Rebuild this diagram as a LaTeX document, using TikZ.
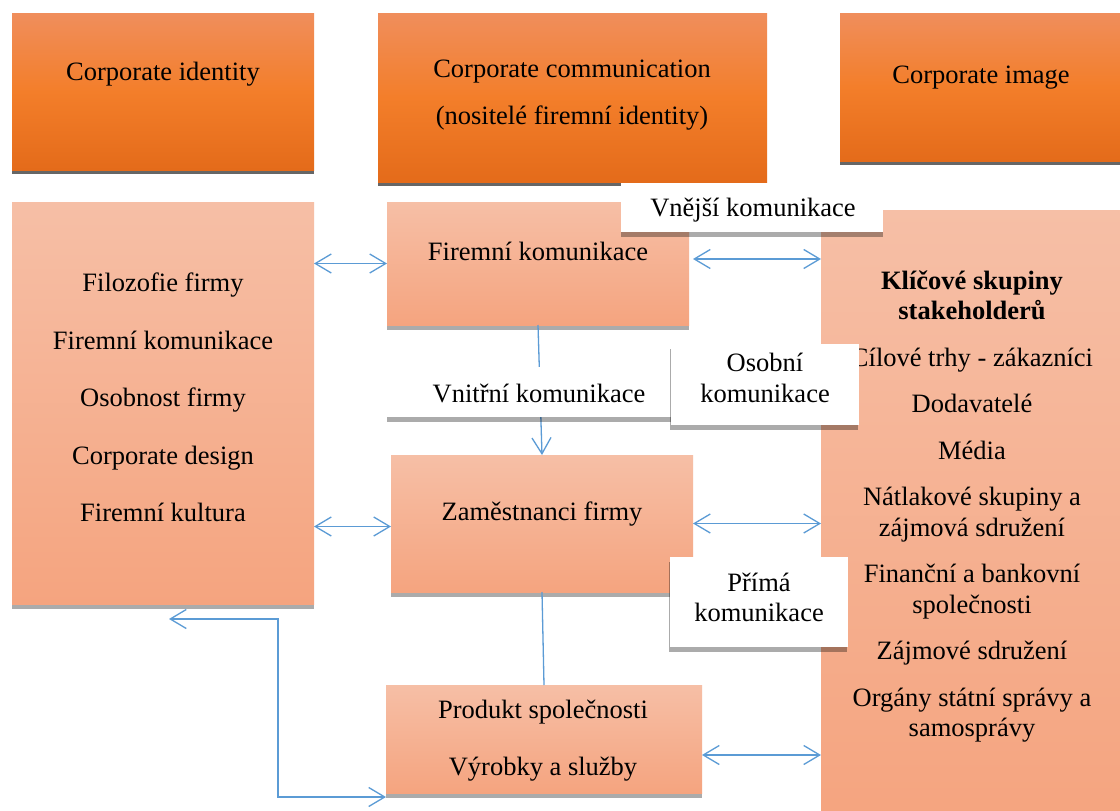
\documentclass[tikz,border=0pt]{standalone}
\usepackage{fontspec}
\setmainfont{Liberation Serif}
\usetikzlibrary{arrows.meta,shadows,calc}

\definecolor{orTop}{RGB}{240,142,92}
\definecolor{orMid}{RGB}{243,126,42}
\definecolor{orBot}{RGB}{228,107,26}
\definecolor{pkTop}{RGB}{246,191,166}
\definecolor{pkBot}{RGB}{245,164,127}
\definecolor{linkblue}{RGB}{91,155,213}

\tikzset{
  box/.style={rectangle, inner sep=0pt, outer sep=0pt, draw=none, anchor=north west},
  headbox/.style={box, top color=orTop, bottom color=orBot, middle color=orMid,
    drop shadow={shadow xshift=0pt, shadow yshift=-4pt, fill=black, opacity=0.6}},
  pinkbox/.style={box, top color=pkTop, bottom color=pkBot,
    drop shadow={shadow xshift=0pt, shadow yshift=-5pt, fill=black, opacity=0.33}},
  labelbox/.style={box, fill=white,
    drop shadow={shadow xshift=0pt, shadow yshift=-5pt, fill=black, opacity=0.33}},
  sidelabelbox/.style={box, fill=white,
    drop shadow={shadow xshift=-1pt, shadow yshift=-5pt, fill=black, opacity=0.33}},
  % multi-line texts are placed by the baseline of their last line
  txt/.style={anchor=base, inner sep=0pt, align=center,
    font=\fontsize{26.5pt}{30.5pt}\selectfont},
  barb/.tip={Straight Barb[length=16pt,width=19pt]},
  flow/.style={draw=linkblue, line width=1.3pt},
  link/.style={flow, barb-barb},
}

\begin{document}
\begin{tikzpicture}[x=1pt,y=-1pt]
  \useasboundingbox (0,0) rectangle (1120,811);
  \fill[white] (0,0) rectangle (1120,811);
  \clip (0,0) rectangle (1120,811);

  % header row
  \node[headbox, minimum width=302pt, minimum height=157pt] (ci) at (12,13) {};
  \node[headbox, minimum width=389pt, minimum height=169pt] (cc) at (378,13) {};
  \node[headbox, minimum width=290pt, minimum height=148pt] (cim) at (840,13) {};
  \node[txt] (ci-t) at (163,80) {Corporate identity};
  \node[txt] (cc-t) at (572,124) {Corporate communication\\[16.5pt](nositelé firemní identity)};
  \node[txt] (cim-t) at (981,83) {Corporate image};

  % content boxes
  \node[pinkbox, minimum width=302pt, minimum height=402pt] (lb) at (12,202) {};
  \node[pinkbox, minimum width=302pt, minimum height=123pt] (fk) at (387,202) {};
  \node[pinkbox, minimum width=310pt, minimum height=611pt] (sh) at (821,210) {};
  \node[pinkbox, minimum width=302pt, minimum height=137pt] (zf) at (391,455) {};
  \node[pinkbox, minimum width=316pt, minimum height=108pt] (pr) at (386,685) {};

  \node[txt] (lb-t) at (163,521.7) {Filozofie firmy\\[27pt]Firemní komunikace\\[27pt]Osobnost firmy\\[27pt]Corporate design\\[27pt]Firemní kultura};
  \node[txt] (fk-t) at (538,260.7) {Firemní komunikace};
  \node[txt] (zf-t) at (542,520) {Zaměstnanci firmy};
  \node[txt] (pr-t) at (543,775) {Produkt společnosti\\[26pt]Výrobky a služby};
  \node[txt] (sh-t) at (972,736.7) {\textbf{Klíčové skupiny}\\\textbf{stakeholderů}\\[16pt]Cílové trhy - zákazníci\\[16pt]Dodavatelé\\[16pt]Média\\[16pt]Nátlakové skupiny a\\zájmová sdružení\\[16pt]Finanční a bankovní\\společnosti\\[16pt]Zájmové sdružení\\[16pt]Orgány státní správy a\\samosprávy};

  % connectors
  \draw[link] (fk.west -| lb.east) -- (fk.west);
  \coordinate (a2) at ($(zf.west)+(0,3)$);
  \draw[link] (a2 -| lb.east) -- (a2);
  \coordinate (a3) at ($(fk.east)+(4,-4.5)$);
  \draw[link] (a3) -- (a3 -| sh.west);
  \draw[link] (zf.east) -- (zf.east -| sh.west);
  \coordinate (a5) at ($(pr.east)+(0,16)$);
  \draw[link] (a5) -- (a5 -| sh.west);
  \coordinate (e1) at ($(lb.south)+(6,15)$);
  \coordinate (e2) at ($(pr.south west)+(0,4)$);
  \draw[link] (e1) -- ++(109,0) |- (e2);
  \draw[flow, -barb] (fk.south) -- (zf.north);
  \draw[flow] (zf.south) -- (pr.north);

  % communication labels
  \node[labelbox, minimum width=262pt, minimum height=49pt] (vn) at (621,183) {};
  \node[txt] (vn-t) at (753,216.7) {Vnější komunikace};
  \node[labelbox, minimum width=303pt, minimum height=50pt] (vi) at (387,367) {};
  \node[txt] (vi-t) at (539,402) {Vnitřní komunikace};
  \node[sidelabelbox, minimum width=188pt, minimum height=81pt] (os) at (671,344) {};
  \node[txt] (os-t) at (765,402) {Osobní\\komunikace};
  \node[sidelabelbox, minimum width=178pt, minimum height=90pt] (pm) at (670,557) {};
  \node[txt] (pm-t) at (759,621.7) {Přímá\\komunikace};
\end{tikzpicture}
\end{document}
